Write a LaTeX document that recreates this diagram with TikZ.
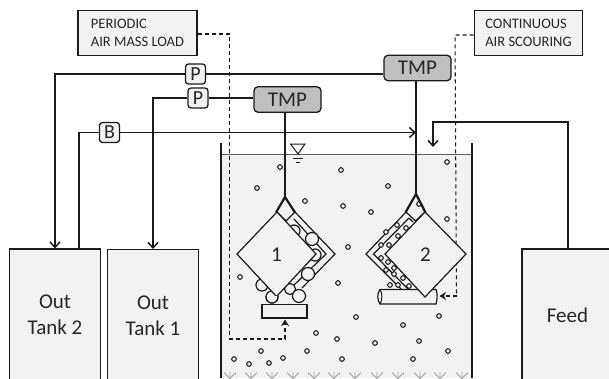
\documentclass[tikz,border=0pt]{standalone}
\usepackage{fontspec}
\setmainfont{Carlito}
\usetikzlibrary{arrows.meta,calc}
\definecolor{ln}{HTML}{1A1A1A}
\definecolor{bgf}{HTML}{F2F2F2}
\definecolor{tmpf}{HTML}{BFBFBF}
\definecolor{txt}{HTML}{262626}
\tikzset{
  pipe/.style={draw=ln,line width=1.5pt},
  into/.style={pipe,-{Straight Barb[length=5.5pt,width=10pt,line width=1.5pt]}},
  stem/.style={draw=ln,line width=2.4pt},
  air/.style={draw=ln,line width=1.05pt,dash pattern=on 4pt off 3pt},
  airin/.style={air,-{Stealth[length=6.5pt,width=8pt]}},
  wall/.style={draw=ln,line width=2pt},
  mem/.style={draw=ln,line width=1.2pt,fill=bgf,line join=miter},
  memline/.style={draw=ln,line width=1.2pt,line join=miter},
  bub/.style={draw=ln,line width=1.05pt},
  bigbub/.style={draw=ln,line width=1.2pt,fill=bgf},
  label/.style={draw=ln,line width=1.1pt,fill=bgf,minimum height=44.5pt,align=left,font=\fontsize{14.5}{18}\selectfont,text=txt,inner sep=0pt},
  valve/.style={draw=ln,line width=1.3pt,fill=bgf,rounded corners=3pt,minimum width=20pt,minimum height=20pt,inner sep=0pt,font=\fontsize{20}{20}\selectfont,text=txt},
  gauge/.style={draw=ln,line width=1.3pt,fill=tmpf,rounded corners=4pt,minimum width=67pt,minimum height=25.5pt,inner sep=0pt,font=\fontsize{21}{21}\selectfont,text=txt},
  vessel/.style={draw=ln,line width=1.3pt,fill=bgf,minimum width=91pt,minimum height=132pt,inner sep=0pt,align=center,font=\fontsize{21}{26}\selectfont,text=txt},
  modnum/.style={inner sep=0pt,font=\fontsize{21}{21}\selectfont,text=txt}
}
\begin{document}
\begin{tikzpicture}[x=1pt,y=-1pt]
\useasboundingbox (0,0) rectangle (609,378);
\clip (0,0) rectangle (609,378);
% tank water
\fill[bgf] (220,154.5) rectangle (472,378);
% vessels
\node[vessel] (tank2) at (55,315) {Out\\Tank 2};
\node[vessel] (tank1) at (153,315.5) {Out\\Tank 1};
\node[vessel] (feed) at (567.5,315) {Feed};
% labels
\node[label,minimum width=119pt] (periodic) at (137.5,33) {PERIODIC\\AIR MASS LOAD};
\node[label,minimum width=108.5pt] (cont) at (528.5,33) {CONTINUOUS\\AIR SCOURING};
% instruments
\node[gauge] (tmpB) at (417.5,68) {TMP};
\node[gauge] (tmpA) at (287.5,99.5) {TMP};
\node[valve] (p1) at (195.5,74) {P};
\node[valve] (p2) at (198,98) {P};
\node[valve] (b) at (109.5,132.5) {B};
% free ends
\coordinate (t2in) at (55,248.5);
\coordinate (t2out) at (79,249);
\coordinate (t1in) at (153,249);
\coordinate (mA) at (285,197);
\coordinate (mB) at (416,194);
\coordinate (bend) at (416,132.5);
\coordinate (feedout) at (568,249);
\coordinate (feedtop) at (568,122);
\coordinate (feedin) at (433,147);
\coordinate (d1a) at (229.5,34);
\coordinate (d1b) at (229.5,339);
\coordinate (d1c) at (285,339);
\coordinate (d2a) at (455,35);
\coordinate (d2b) at (456.5,296);
\coordinate (ds1) at (285,319.5);
\coordinate (ds2) at (439.5,296);
% dashed air lines
\draw[air] (periodic.east|-d1a) -- (d1a) -- (d1b) -- (d1c);
\draw[airin] (d1c) -- (ds1);
\draw[air] (cont.west|-d2a) -- (d2a) -- (d2b);
\draw[airin] (d2b) -- (ds2);
% pipes
\draw[pipe] (tmpB.west|-p1) -- (p1);
\draw[into] (p1.west) -| (t2in);
\draw[pipe] (tmpA.west|-p2) -- (p2);
\draw[into] (p2.west) -| (t1in);
\draw[pipe] (t2out) |- (b.west);
\draw[into] (b.east) -- (bend);
\draw[into] (feedout) -- (feedtop) -- (feedtop-|feedin) -- (feedin);
% tank walls and level
\draw[draw=ln!70,line width=1.5pt] (220,154.5) -- (472,154.5);
\draw[wall] (220.5,143) -- (220.5,378);
\draw[wall] (472,143) -- (472,378);
% level mark
\draw[draw=ln,line width=1pt] (290.5,144) -- (305,144) -- (298,154) -- cycle;
\draw[draw=ln,line width=1pt] (293,158) -- (302.5,158) (296,162) -- (300,162);
% diffusers
\foreach \x in {230,251,272,293,314,334,355,377,398,420,440,462}{
  \draw[draw=gray!70,line width=0.8pt] (\x-6,372.5) -- (\x,378.5) -- (\x+6,372.5) (\x,372) -- (\x,378.5);
}
% free bubbles
\foreach \x/\y in {280/167,257/188,305/201,341/170,343/206,371/212,388/186,447/162,240/277,338/283,316/333,337/339,307/351,261/351,234/359,249/364,269/363,283/358,447/219,348/247,356/317,403/325,439/316,375/343,419/341,448/351,342/359,413/359,419/204}{
  \draw[bub] (\x,\y) circle (2.3);
}
% stems
\draw[stem] (tmpA.south-|mA) -- (mA);
\draw[stem] (tmpB.south-|mB) -- (mB);
% --- module 1 ---
\draw[mem] (295,212) -- (335,254) -- (302,288);
\draw[mem] (294,219) -- (326,254) -- (293,286);
\draw[memline] (277,212) -- (286,221) -- (295,212);
\foreach \x/\y/\r in {294/231/6,315/255/6,290/289/5.5,262/285/6,272/297/6}{
  \draw[bigbub] (\x,\y) circle (\r);
}
\draw[mem] (277,212) -- (316,254) -- (276.5,296.5) -- (237,254) -- cycle;
\draw[stem,line width=2.2pt] (276,212.5) -- (mA) -- (295,212.5);
\foreach \x/\y in {312/239,308/274,299/296}{
  \draw[bigbub] (\x,\y) circle (6.5);
}
\begin{scope}
\clip (262,296.5) rectangle (285,305);
\draw[bigbub] (272,297) circle (6);
\end{scope}
\draw[draw=ln,line width=1.2pt,fill=bgf] (262,304.5) rectangle (307,318);
\node[modnum] (n1) at (276.5,254.5) {1};
% --- module 2 ---
\draw[mem] (406,212) -- (366,254) -- (402,290);
\draw[mem] (409,218) -- (373.5,254) -- (408,289);
\draw[memline] (406,212) -- (415.5,221) -- (425,212);
\draw[memline] (409,218) -- (413,222);
\foreach \x/\y in {386/232,397/225,406/228,398/236,381/245,389/245,381/258,388/262,394/268,386/270,394/274,403/278,390/285,398/285,409/286}{
  \draw[bub,fill=bgf] (\x,\y) circle (2.3);
}
\draw[draw=ln,line width=1.2pt,fill=bgf] (380,289.5) -- (436,289.5) .. controls (437.5,293) and (437.5,300) .. (436,304) -- (380,304) .. controls (377,300) and (377,293) .. (380,289.5) -- cycle;
\draw[draw=ln,line width=1pt] (380,289.5) .. controls (382.5,293) and (382.5,300) .. (380,304);
\draw[mem] (425,212) -- (466,254) -- (425,297) -- (385,254) -- cycle;
\draw[stem,line width=2.2pt] (405.5,212.5) -- (mB) -- (425.5,212.5);
\node[modnum] (n2) at (425.5,254.5) {2};
\end{tikzpicture}
\end{document}
